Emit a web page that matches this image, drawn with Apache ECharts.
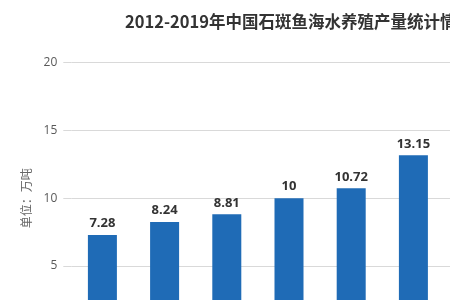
<!DOCTYPE html>
<html><head><meta charset="utf-8">
<script src="https://cdn.jsdelivr.net/npm/echarts@6/dist/echarts.min.js"></script>
<style>html,body{margin:0;padding:0;background:#fff;overflow:hidden;width:450px;height:300px}#c{width:620px;height:340px}</style>
</head><body><div id="c"></div>
<script>
var titleText = '2012-2019年中国石斑鱼海水养殖产量统计情况';
var yAxisName = '单位：万吨';
var categories = ['2012','2013','2014','2015','2016','2017','2018','2019'];
var production = [7.28, 8.24, 8.81, 10, 10.72, 13.15, 15.96, 18.36];
var yTicks = {min: 0, max: 20, interval: 5};

var chart = echarts.init(document.getElementById('c'), null, {renderer: 'canvas'});
chart.setOption({
  backgroundColor: '#fff',
  animation: false,
  title: {
    text: titleText, left: 120, top: 8,
    textStyle: {fontSize: 16.5, fontWeight: 'bold', color: '#333', fontFamily: '"Noto Sans CJK SC", sans-serif'}
  },
  grid: {left: 71.3, top: 62.3, width: 497.6, height: 273.4, containLabel: false},
  xAxis: {
    type: 'category', data: categories,
    axisLine: {show: false}, axisTick: {show: false}, axisLabel: {show: false}
  },
  yAxis: {
    type: 'value', min: yTicks.min, max: yTicks.max, interval: yTicks.interval,
    name: yAxisName, nameLocation: 'middle', nameGap: 35, nameRotate: 90,
    nameTextStyle: {fontSize: 12, color: '#666', fontFamily: '"Noto Sans CJK SC", sans-serif'},
    axisLine: {show: false},
    axisTick: {show: true, length: 8, lineStyle: {color: '#d9d9d9'}},
    axisLabel: {margin: 14, fontSize: 12, color: '#595959', fontFamily: '"Open Sans", sans-serif'},
    splitLine: {lineStyle: {color: '#d9d9d9'}}
  },
  series: [{
    type: 'bar', data: production, barWidth: 29,
    itemStyle: {color: '#1f6bb6'},
    label: {show: true, position: 'top', distance: 5, fontSize: 13, fontWeight: 'bold', color: '#333', fontFamily: '"Open Sans", sans-serif'}
  }]
});
</script></body></html>
